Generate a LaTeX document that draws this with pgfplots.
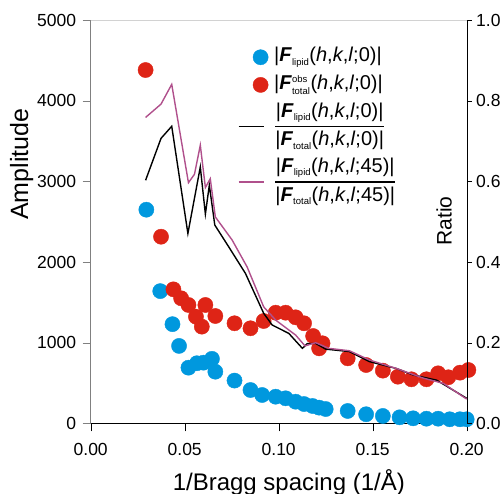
\documentclass[border=0pt]{standalone}
\usepackage{amsmath}
\usepackage{fontspec}
\setmainfont{Liberation Sans}
\usepackage{pgfplots}
\pgfplotsset{compat=1.18}

\definecolor{cblue}{RGB}{0,152,222}
\definecolor{cred}{RGB}{222,36,22}
\definecolor{cmag}{RGB}{176,80,140}

\newcommand{\FF}{\textbf{\textit{F}}}
\newcommand{\sm}[1]{\mbox{\fontsize{9.5}{9.5}\selectfont #1}}
\newcommand{\hkl}[1]{(\textit{h},\textit{k},\textit{l};#1)}

\begin{document}
\begin{tikzpicture}
\pgfplotsset{
  common/.style={
    scale only axis, width=376pt, height=403pt,
    xmin=0, xmax=0.2, clip=false,
    tick align=outside, major tick length=8pt,
    /pgf/number format/assume math mode=true,
    tick label style={font=\fontsize{17.5}{19}\selectfont},
  },
  dotimg/.style={legend image code/.code={
    \path[draw=none] (0pt,0pt) -- (25pt,0pt);
    \draw[##1] plot coordinates {(22pt,0pt)};}},
  lineimg/.style={legend image code/.code={
    \draw[##1] (0pt,0pt) -- (25pt,0pt);}},
}
% left axis: amplitudes
\begin{axis}[common, name=ax,
  axis x line*=bottom, axis y line*=left,
  x axis line style={black}, y axis line style={gray},
  ytick style={gray}, xtick style={black},
  ymin=0, ymax=5000, ytick={0,1000,...,5000},
  xtick={0,0.05,0.1,0.15,0.2},
  xticklabel style={yshift=-8pt, /pgf/number format/fixed, /pgf/number format/fixed zerofill, /pgf/number format/precision=2},
  yticklabel style={xshift=-3pt, /pgf/number format/1000 sep={}},
  xlabel={1/Bragg spacing (1/Å)},
  ylabel={Amplitude},
  xlabel style={at={(axis description cs:0.527,-0.146)}, anchor=center, font=\fontsize{24}{26}\selectfont},
  ylabel style={at={(axis description cs:-0.1835,0.643)}, anchor=center, font=\fontsize{25}{27}\selectfont},
]
\draw[gray!35] (rel axis cs:0,1) -- (rel axis cs:1,1);
\addplot[only marks, mark=*, mark size=7.6pt, color=cblue] coordinates {
(0.0296,2650)(0.0370,1640)(0.0435,1230)(0.0470,960)(0.0520,690)(0.0565,745)
(0.0600,752)(0.0645,800)(0.0663,640)(0.0765,530)(0.0850,413)(0.0912,351)
(0.0984,330)(0.1037,310)(0.1090,268)(0.1135,239)(0.1180,215)(0.1215,194)
(0.1250,177)(0.1367,153)(0.1465,112)(0.1554,91)(0.1643,74)(0.1715,62)
(0.1786,57)(0.1848,57)(0.1910,50)(0.1964,50)(0.2000,50)};
\addplot[only marks, mark=*, mark size=7.6pt, color=cred] coordinates {
(0.0292,4383)(0.0374,2315)(0.0440,1662)(0.0481,1551)(0.0520,1468)(0.0560,1323)
(0.0591,1199)(0.0610,1468)(0.0663,1331)(0.0765,1241)(0.0850,1179)(0.0920,1269)
(0.0984,1372)(0.1037,1372)(0.1090,1315)(0.1135,1241)(0.1183,1083)(0.1233,993)
(0.1215,930)(0.1367,806)(0.1465,723)(0.1554,653)(0.1634,578)(0.1706,546)
(0.1786,546)(0.1848,620)(0.1902,571)(0.1964,628)(0.2009,661)};
\end{axis}
% right axis: ratios
\begin{axis}[common,
  axis x line=none, axis y line*=right,
  y axis line style={black}, ytick style={black}, major tick length=5pt,
  ymin=0, ymax=1, ytick={0,0.2,...,1},
  yticklabel style={xshift=1pt, /pgf/number format/fixed, /pgf/number format/fixed zerofill, /pgf/number format/precision=1},
  legend cell align=left,
  legend style={at={(0.383,0.943)}, anchor=north west, draw=none, fill=none,
    font=\fontsize{20}{22}\selectfont, row sep=4pt, column sep=4pt,
    nodes={text depth=}},
]
\addlegendimage{only marks, mark=*, mark size=7.6pt, color=cblue, dotimg}
\addlegendentry{|\FF$_{\sm{lipid}}$\hkl{0}|}
\addlegendimage{only marks, mark=*, mark size=7.6pt, color=cred, dotimg}
\addlegendentry{|\FF$^{\sm{obs}}_{\sm{total}}$\hkl{0}|}
\addplot[black, line width=1.4pt, lineimg] coordinates {
(0.0292,0.603)(0.0374,0.707)(0.0431,0.737)(0.0517,0.471)(0.0583,0.636)(0.0610,0.519)
(0.0631,0.591)(0.0660,0.492)(0.0734,0.438)(0.0823,0.372)(0.0920,0.273)(0.0965,0.244)
(0.1054,0.223)(0.1126,0.186)(0.1153,0.198)(0.1197,0.198)(0.1250,0.184)(0.1376,0.178)
(0.1483,0.153)(0.1626,0.136)(0.1715,0.120)(0.1840,0.107)(0.2000,0.062)};
\addlegendentry{$\genfrac{}{}{1.2pt}{0}{\mbox{|\FF$_{\sm{lipid}}$\hkl{0}|}}{\mbox{|\FF$_{\sm{total}}$\hkl{0}|}}$}
\addplot[cmag, line width=1.4pt, lineimg] coordinates {
(0.0292,0.759)(0.0374,0.792)(0.0431,0.841)(0.0520,0.597)(0.0552,0.618)(0.0583,0.690)
(0.0610,0.585)(0.0636,0.607)(0.0663,0.512)(0.0752,0.455)(0.0832,0.388)(0.0920,0.289)
(0.0984,0.256)(0.1090,0.219)(0.1140,0.192)(0.1197,0.200)(0.1266,0.186)(0.1376,0.180)
(0.1483,0.157)(0.1626,0.136)(0.1770,0.112)(0.1876,0.099)(0.2000,0.060)};
\addlegendentry{$\genfrac{}{}{1.2pt}{0}{\mbox{|\FF$_{\sm{lipid}}$\hkl{45}|}}{\mbox{|\FF$_{\sm{total}}$\hkl{45}|}}$}
\node[rotate=90, font=\fontsize{21}{23}\selectfont] at (rel axis cs:0.94,0.502) {Ratio};
\end{axis}
\pgfresetboundingbox
\path ([shift={(-90.7pt,-70.7pt)}]ax.south west) rectangle ([shift={(413.3pt,423.3pt)}]ax.south west);
\end{tikzpicture}
\end{document}
